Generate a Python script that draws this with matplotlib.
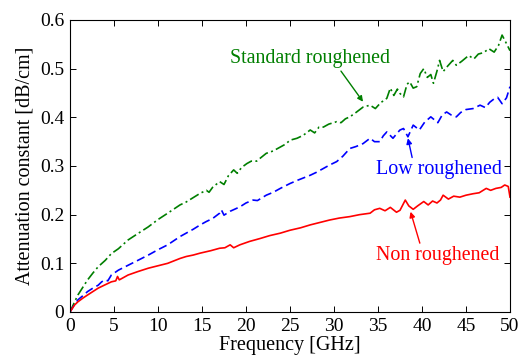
import matplotlib
matplotlib.use("Agg")
import matplotlib.pyplot as plt

plt.rcParams['font.family'] = ['Liberation Serif', 'DejaVu Serif']
plt.rcParams['mathtext.fontset'] = 'stix'

freq_std = [0, 0.5, 0.9, 1.5, 2.0, 2.6, 3.2, 4.0, 4.7, 5.5, 6.6, 7.7, 8.9, 10, 11.1, 12.5, 13.2, 14.0,
            14.8, 15.5, 15.8, 16.2, 17.0, 17.5, 18.0, 18.6, 19.0, 19.5, 20.1, 20.6, 21.2, 22.3, 23.1,
            23.9, 24.5, 25.0, 25.8, 26.5, 27.3, 27.8, 28.3, 28.8, 29.4, 30.3, 30.8, 31.3, 31.8, 32.5,
            33.3, 34.1, 34.7, 35.3, 36.0, 36.4, 36.8, 37.2, 37.5, 37.9, 38.3, 38.6, 39.0, 39.4, 39.8,
            40.2, 40.6, 41.0, 41.3, 41.7, 42.0, 42.4, 42.9, 43.5, 43.9, 44.5, 45.3, 45.9, 46.4, 47.0,
            47.6, 48.2, 48.7, 49.1, 49.5, 50.0]
std_rough = [0, 0.02, 0.035, 0.052, 0.066, 0.08, 0.093, 0.106, 0.12, 0.13, 0.148, 0.161, 0.175, 0.19,
             0.203, 0.22, 0.226, 0.235, 0.244, 0.25, 0.246, 0.256, 0.268, 0.262, 0.28, 0.292, 0.285,
             0.297, 0.305, 0.31, 0.31, 0.326, 0.331, 0.339, 0.345, 0.353, 0.357, 0.363, 0.374, 0.368,
             0.38, 0.38, 0.386, 0.391, 0.389, 0.397, 0.401, 0.41, 0.421, 0.425, 0.418, 0.43, 0.439,
             0.46, 0.445, 0.458, 0.449, 0.442, 0.468, 0.473, 0.46, 0.463, 0.49, 0.5, 0.482, 0.488,
             0.47, 0.495, 0.517, 0.494, 0.505, 0.517, 0.507, 0.515, 0.527, 0.52, 0.53, 0.533, 0.541,
             0.534, 0.548, 0.569, 0.555, 0.537]

freq_low = [0, 0.5, 0.9, 1.5, 2.0, 2.6, 3.2, 3.6, 4.0, 4.3, 4.7, 5.5, 6.6, 7.7, 8.9, 10, 11.1, 12.5,
            13.2, 14.0, 14.8, 15.5, 16.2, 17.0, 17.2, 17.5, 18.2, 19.3, 20.0, 20.8, 21.3, 22.3, 23.1,
            23.9, 25.0, 25.9, 27.3, 28.0, 28.8, 29.5, 30.3, 31.0, 31.8, 32.5, 33.3, 34.1, 34.6, 35.2,
            35.6, 36.0, 36.7, 37.2, 37.5, 37.9, 38.4, 39.0, 39.7, 40.3, 41.0, 41.8, 42.3, 42.8, 43.3,
            43.9, 44.4, 45.0, 45.8, 46.6, 47.2, 47.7, 48.2, 48.6, 49.1, 49.6, 50.0]
low_rough = [0, 0.015, 0.025, 0.034, 0.042, 0.049, 0.055, 0.062, 0.066, 0.064, 0.076, 0.086, 0.096,
             0.106, 0.117, 0.128, 0.138, 0.155, 0.162, 0.17, 0.179, 0.186, 0.192, 0.203, 0.21, 0.199,
             0.207, 0.216, 0.224, 0.23, 0.229, 0.24, 0.246, 0.254, 0.264, 0.271, 0.281, 0.287, 0.295,
             0.302, 0.309, 0.32, 0.336, 0.34, 0.346, 0.357, 0.35, 0.35, 0.362, 0.37, 0.357, 0.368,
             0.374, 0.377, 0.36, 0.384, 0.374, 0.39, 0.401, 0.389, 0.405, 0.411, 0.405, 0.401, 0.41,
             0.416, 0.418, 0.425, 0.42, 0.431, 0.438, 0.441, 0.428, 0.44, 0.463]

freq_non = [0, 0.5, 0.9, 1.5, 2.0, 2.6, 3.2, 4.0, 4.7, 5.2, 5.4, 5.6, 6.6, 7.7, 8.9, 10.0, 11.1, 12.5,
            13.2, 14.0, 14.8, 16.0, 17.0, 17.6, 18.2, 18.6, 19.3, 20.4, 21.6, 22.7, 23.9, 25.0, 26.2,
            27.3, 28.4, 29.5, 30.6, 31.8, 32.9, 34.1, 34.6, 35.2, 35.8, 36.4, 37.1, 37.5, 38.1, 38.5,
            39.0, 39.5, 40.2, 40.7, 41.2, 41.7, 42.1, 42.4, 43.0, 43.6, 44.3, 45.0, 45.8, 46.5, 47.3,
            47.8, 48.4, 49.0, 49.4, 49.8, 50.0]
non_rough = [0, 0.014, 0.021, 0.029, 0.035, 0.042, 0.049, 0.056, 0.062, 0.064, 0.073, 0.066, 0.076,
             0.083, 0.09, 0.095, 0.1, 0.11, 0.114, 0.117, 0.121, 0.126, 0.131, 0.132, 0.138, 0.132,
             0.138, 0.145, 0.151, 0.157, 0.162, 0.168, 0.173, 0.179, 0.184, 0.189, 0.193, 0.196, 0.2,
             0.203, 0.21, 0.213, 0.208, 0.215, 0.205, 0.209, 0.23, 0.218, 0.211, 0.218, 0.227, 0.22,
             0.228, 0.224, 0.23, 0.24, 0.232, 0.238, 0.236, 0.24, 0.243, 0.245, 0.254, 0.25, 0.254,
             0.256, 0.261, 0.258, 0.236]

xticks = [0, 5, 10, 15, 20, 25, 30, 35, 40, 45, 50]
yticks = [0, 0.1, 0.2, 0.3, 0.4, 0.5, 0.6]
ytick_labels = ['0', '0.1', '0.2', '0.3', '0.4', '0.5', '0.6']

green = '#007f00'
fig = plt.figure(figsize=(5.21, 3.62), dpi=100)
ax = fig.add_axes([70/521, 50/362, 440/521, 292/362])

ax.plot(freq_std, std_rough, color=green, lw=1.2, dashes=(6, 2, 1.2, 2))
ax.plot(freq_low, low_rough, color='blue', lw=1.2, dashes=(5, 2.5))
ax.plot(freq_non, non_rough, color='red', lw=1.2)

ax.set_xlim(0, 50)
ax.set_ylim(0, 0.6)
ax.set_xticks(xticks)
ax.set_xticklabels([str(t) for t in xticks])
ax.set_yticks(yticks)
ax.set_yticklabels(ytick_labels)
ax.tick_params(direction='in', top=True, right=True, length=4, width=0.7, labelsize=14, pad=4)
for s in ax.spines.values():
    s.set_linewidth(0.8)

ax.set_xlabel('Frequency [GHz]', fontsize=14.5, labelpad=1)
ax.set_ylabel('Attenuation constant [dB/cm]', fontsize=14.5, labelpad=4)

arrow_kw = dict(arrowstyle='-|>', lw=1.0, mutation_scale=8, shrinkA=0, shrinkB=0)
ax.annotate('Standard roughened', xy=(33.3, 0.432), xytext=(18.2, 0.511),
            color=green, fontsize=14.4, va='baseline', ha='left',
            arrowprops=dict(color=green, relpos=(0.68, 0.0), **arrow_kw))
ax.annotate('Low roughened', xy=(38.4, 0.357), xytext=(34.8, 0.283),
            color='blue', fontsize=14.4, va='baseline', ha='left',
            arrowprops=dict(color='blue', relpos=(0.29, 1.0), **arrow_kw))
ax.annotate('Non roughened', xy=(38.7, 0.206), xytext=(34.8, 0.107),
            color='red', fontsize=14.4, va='baseline', ha='left',
            arrowprops=dict(color='red', relpos=(0.36, 1.0), **arrow_kw))

fig.savefig('out.png', dpi=100)
